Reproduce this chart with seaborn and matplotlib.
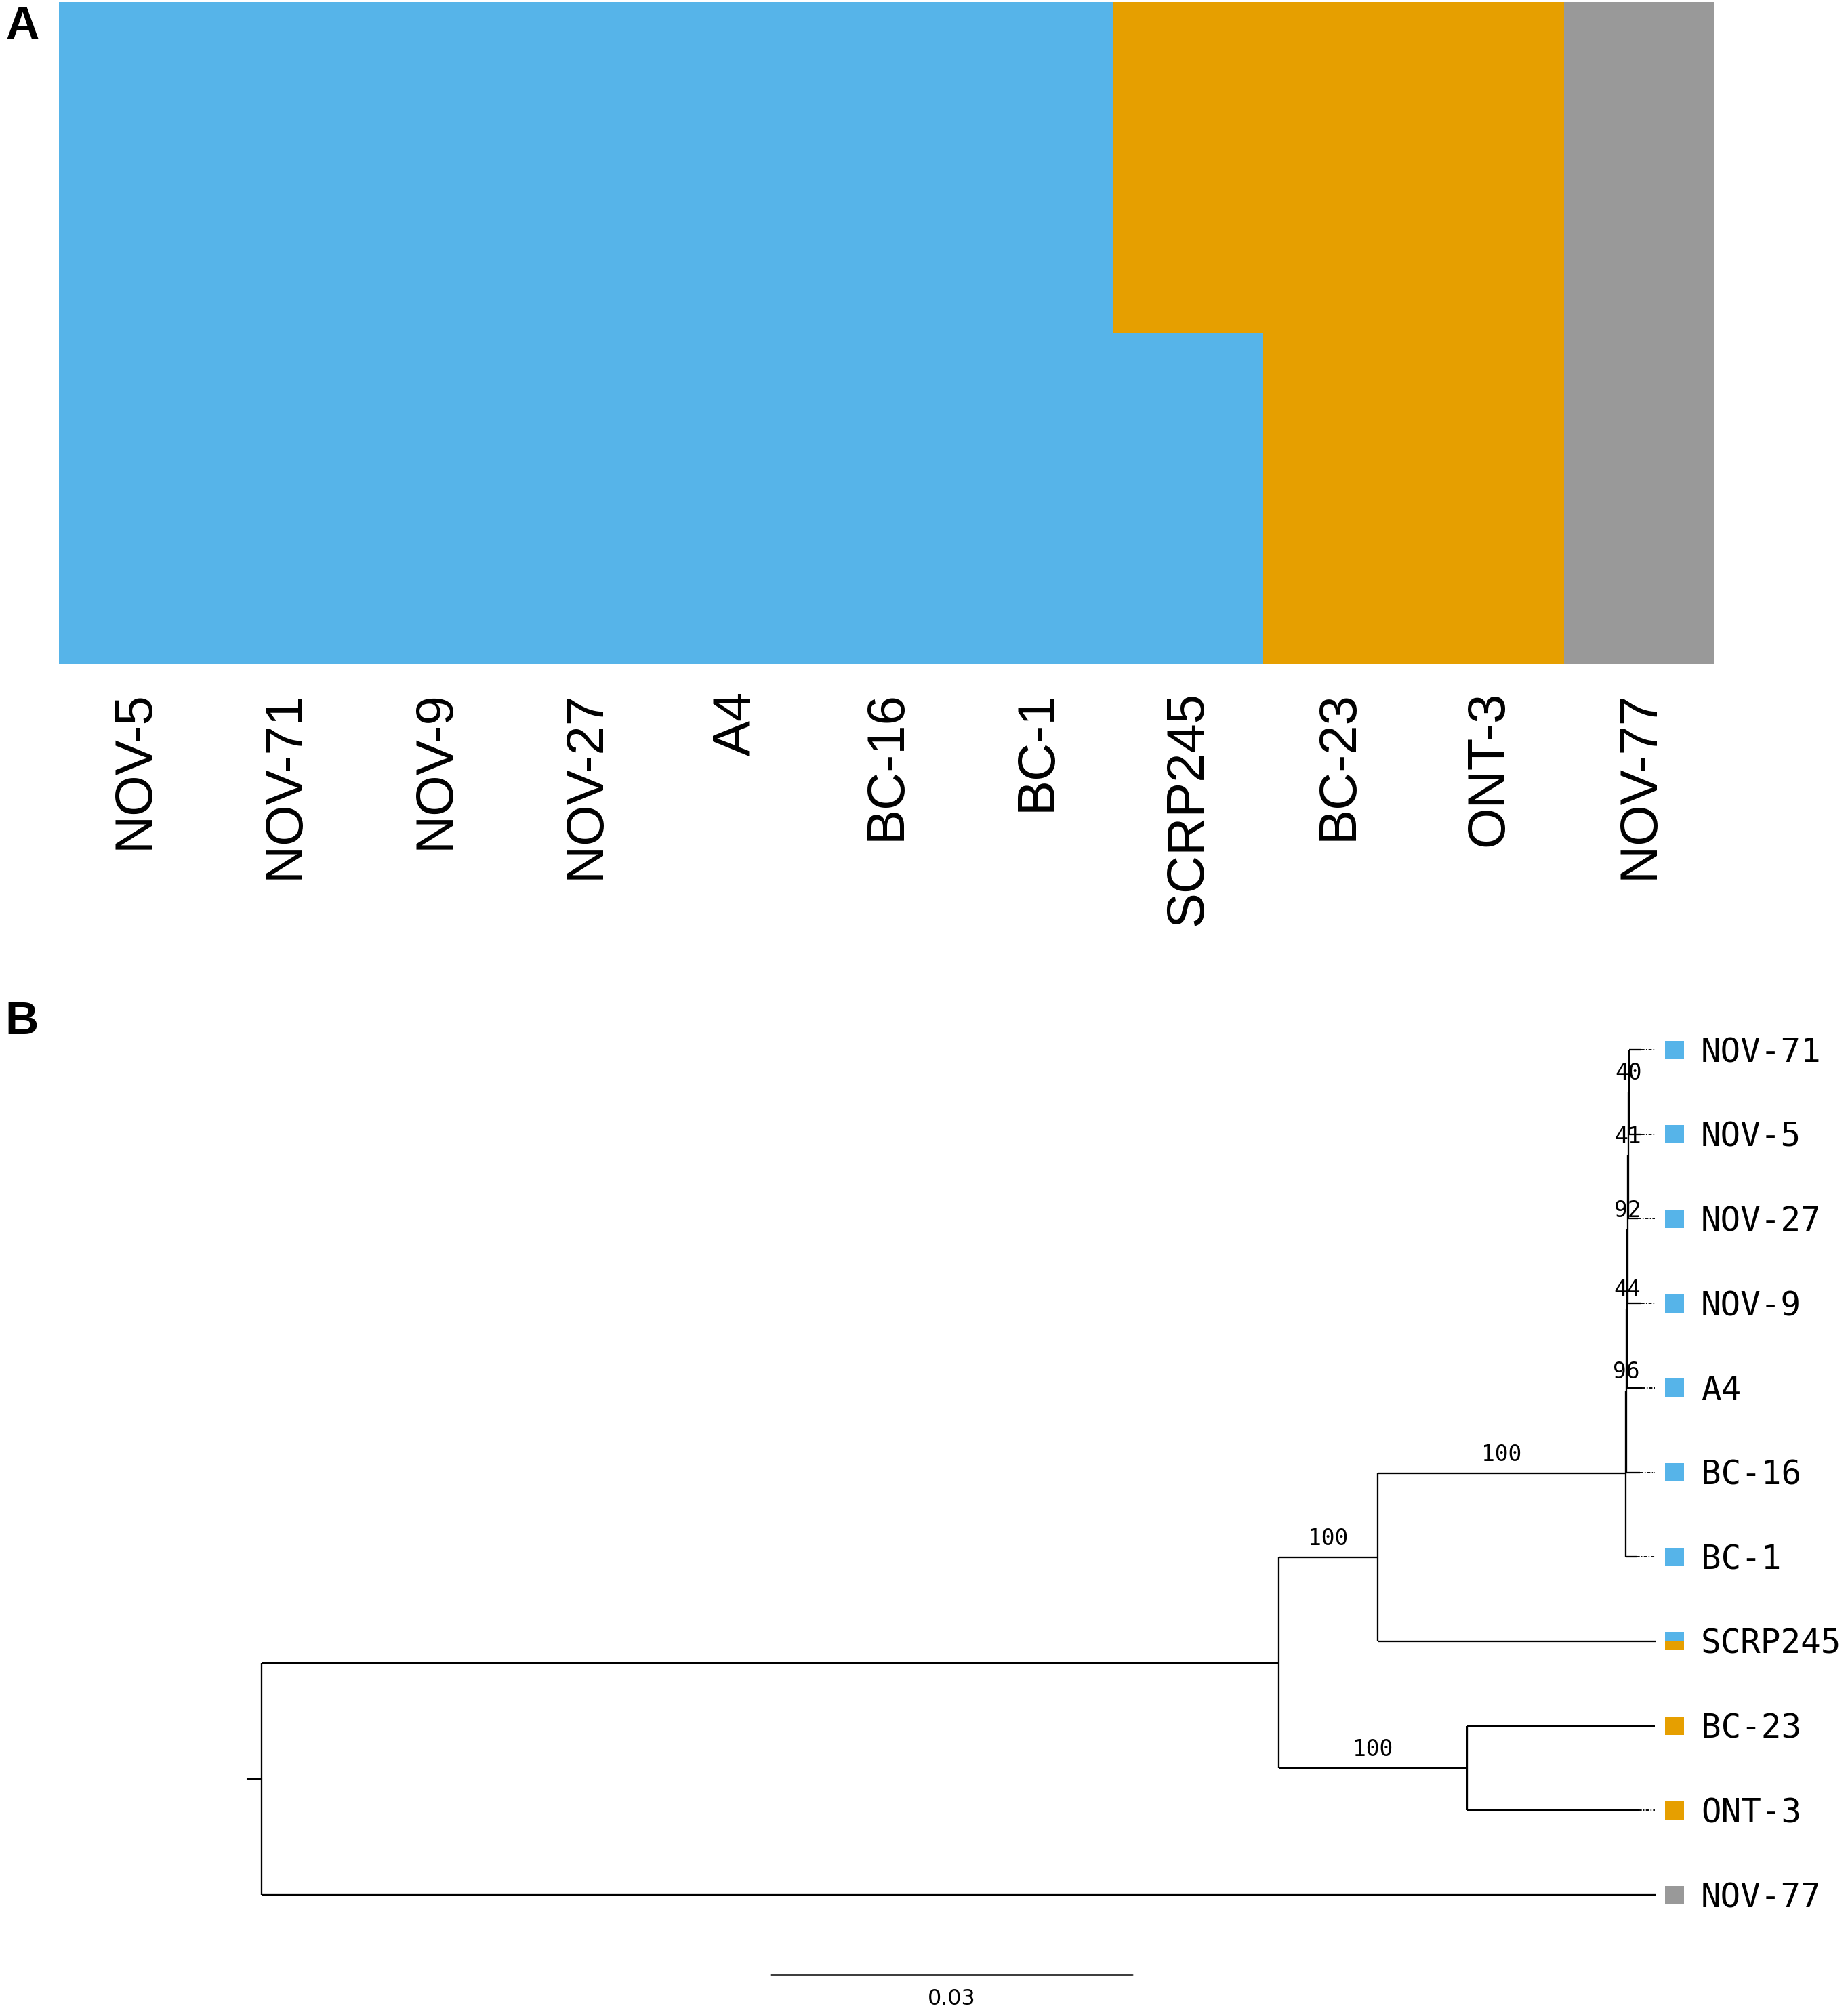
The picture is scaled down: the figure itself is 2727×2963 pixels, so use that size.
import numpy as np
import pandas as pd
import matplotlib
matplotlib.use('Agg')
import matplotlib.pyplot as plt
import seaborn as sns
from matplotlib.patches import Rectangle

# ---- panel A: cluster membership per sample ----
samples = ['NOV-5', 'NOV-71', 'NOV-9', 'NOV-27', 'A4', 'BC-16', 'BC-1',
           'SCRP245', 'BC-23', 'ONT-3', 'NOV-77']
q_blue = [1, 1, 1, 1, 1, 1, 1, 0.5, 0, 0, 0]
q_orange = [0, 0, 0, 0, 0, 0, 0, 0.5, 1, 1, 0]
q_gray = [0, 0, 0, 0, 0, 0, 0, 0, 0, 0, 1]

c_blue = '#56B4E9'
c_orange = '#E69F00'
c_gray = '#999999'

# ---- panel B: tree (tip order top->bottom, child/parent/branch length) ----
tip_order = ['NOV-71', 'NOV-5', 'NOV-27', 'NOV-9', 'A4', 'BC-16', 'BC-1',
             'SCRP245', 'BC-23', 'ONT-3', 'NOV-77']
tree_nodes = ['n1', 'NOV-77', 'n2', 'n3', 'nB', 'SCRP245', 'BC-23', 'ONT-3',
              'n96', 'BC-1', 'n44', 'BC-16', 'n92', 'A4', 'n41', 'NOV-9',
              'n40', 'NOV-27', 'NOV-71', 'NOV-5']
tree_parents = ['root', 'root', 'n1', 'n1', 'n2', 'n2', 'n3', 'n3',
                'nB', 'nB', 'n96', 'n96', 'n44', 'n44', 'n92', 'n92',
                'n41', 'n41', 'n40', 'n40']
branch_len = [0.08433, 0.11556, 0.00820, 0.01562, 0.02056, 0.02303, 0.01556, 0.01421,
              0.00008, 0.00090, 0.00006, 0.00110, 0.00003, 0.00121, 0.00006, 0.00112,
              0.00003, 0.00079, 0.00104, 0.00104]
support = {'n2': 100, 'n3': 100, 'nB': 100, 'n96': 96, 'n44': 44,
           'n92': 92, 'n41': 41, 'n40': 40}
scale_len = 0.03

W, H = 2727, 2963
sns.set_theme(style='white')
plt.rcParams['font.family'] = ['Liberation Sans', 'DejaVu Sans']
plt.rcParams['text.color'] = 'black'
plt.rcParams['xtick.color'] = 'black'
plt.rcParams['xtick.labelcolor'] = 'black'

fig = plt.figure(figsize=(W / 300, H / 300), dpi=300)

# A
axA = fig.add_axes([87 / W, 1 - 980 / H, (2530 - 87) / W, (980 - 3) / H])
df = pd.DataFrame({'sample': samples, 'blue': q_blue, 'orange': q_orange, 'gray': q_gray})
df['c1'] = df['blue']
df['c2'] = df['blue'] + df['orange']
df['c3'] = df['c2'] + df['gray']
for col, colr in [('c3', c_gray), ('c2', c_orange), ('c1', c_blue)]:
    sns.barplot(data=df, x='sample', y=col, order=samples, color=colr, width=1,
                saturation=1, linewidth=0, errorbar=None, ax=axA)
axA.set_xlim(-0.5, len(samples) - 0.5)
axA.set_ylim(0, 1)
axA.set_xlabel('')
axA.set_ylabel('')
axA.set_yticks([])
sns.despine(ax=axA, left=True, bottom=True)
axA.tick_params(axis='x', length=0, pad=9.5, labelsize=18.7, labelrotation=90,
                labelcolor='black')

fig.text(8 / W, 1 - 57 / H, 'A', fontsize=16.4, fontweight='bold', va='baseline', color='black')
fig.text(7 / W, 1 - 1526 / H, 'B', fontsize=16.4, fontweight='bold', va='baseline', color='black')

# B
s = 0.03 / 534  # data units per pixel
axB = fig.add_axes([0, 0, 1, 1 - 1460 / H])
axB.set_xlim(-386 * s, (W - 386) * s)
axB.set_ylim((H - 1549) / 124.7, (1460 - 1549) / 124.7)
axB.axis('off')

parent = dict(zip(tree_nodes, tree_parents))
depth = {'root': 0.0}
for nd, p, bl in zip(tree_nodes, tree_parents, branch_len):
    depth[nd] = depth[p] + bl
children = {}
for nd, p in zip(tree_nodes, tree_parents):
    children.setdefault(p, []).append(nd)
ypos = {t: i for i, t in enumerate(tip_order)}
for nd in reversed(['root'] + tree_nodes):
    if nd in children:
        ypos[nd] = np.mean([ypos[c] for c in children[nd]])

lw = 0.55
align = 0.1155
axB.plot([-0.0012, 0], [ypos['root']] * 2, color='black', lw=lw)
for nd in tree_nodes:
    axB.plot([depth[parent[nd]], depth[nd]], [ypos[nd]] * 2, color='black', lw=lw,
             solid_capstyle='butt')
for nd, ch in children.items():
    ys = [ypos[c] for c in ch]
    axB.plot([depth[nd]] * 2, [min(ys), max(ys)], color='black', lw=lw,
             solid_capstyle='butt')
for t in tip_order:
    if depth[t] < align - 0.0002:
        axB.plot([depth[t], align], [ypos[t]] * 2, color='black', lw=0.45,
                 linestyle=(0, (2.5, 1.2, 0.8, 1.2)))

for nd, val in support.items():
    xm = (depth[parent[nd]] + depth[nd]) / 2
    axB.text(xm, ypos[nd] - 0.145, str(val), ha='center', va='baseline',
             fontsize=7.9, family='DejaVu Sans Mono', color='black')

sq_w = 28 * s
sq_h = 27 / 124.7
sq_x = align + 15 * s
fracs = dict(zip(samples, zip(q_blue, q_orange, q_gray)))
for t in tip_order:
    top = ypos[t] - sq_h / 2
    for frac, colr in zip(fracs[t], [c_blue, c_orange, c_gray]):
        if frac > 0:
            axB.add_patch(Rectangle((sq_x, top), sq_w, frac * sq_h, color=colr, lw=0))
            top += frac * sq_h
    axB.text(align + 68 * s, ypos[t] + 0.145, t, ha='left', va='baseline',
             fontsize=11.8, family='DejaVu Sans Mono', color='black')

sb_x0 = (1137 - 386) * s
sb_y = (2914 - 1549) / 124.7
axB.plot([sb_x0, sb_x0 + scale_len], [sb_y] * 2, color='black', lw=0.6)
axB.text(sb_x0 + scale_len / 2, (2958 - 1549) / 124.7, f'{scale_len:.2f}',
         ha='center', va='baseline', fontsize=7.6, family='DejaVu Sans', color='black')

fig.savefig('out.png', dpi=300, facecolor='white')
